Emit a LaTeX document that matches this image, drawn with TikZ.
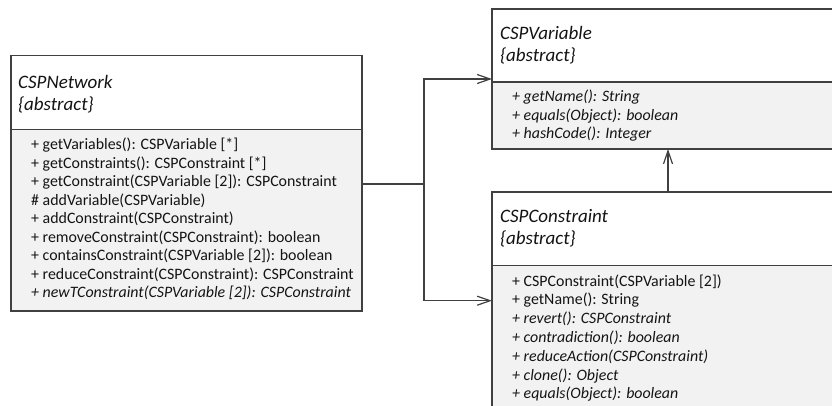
\documentclass[tikz,border=0pt]{standalone}
\usepackage{fontspec}
\setmainfont{Carlito}
\usetikzlibrary{arrows.meta,calc}
\definecolor{umlline}{HTML}{404040}
\definecolor{umlfill}{HTML}{F2F2F2}
\definecolor{umltext}{HTML}{141414}
\tikzset{
  x=1pt, y=-1pt,
  compart/.style={draw=umlline, line width=1.2pt, anchor=north west, inner sep=0pt, outer sep=0pt},
  headbox/.style={compart, fill=white},
  bodybox/.style={compart, fill=umlfill},
  titletext/.style={anchor=base west, inner sep=0pt, text=umltext, font=\fontsize{19}{22}\selectfont\itshape},
  optext/.style={anchor=base west, inner sep=0pt, text=umltext, font=\fontsize{15.9}{18.6}\selectfont},
  conn/.style={draw=umlline, line width=1.2pt},
  openarrow/.style={-{Straight Barb[length=13pt,width=9pt,line width=1.2pt]}}
}
\begin{document}
\begin{tikzpicture}
\useasboundingbox (0,0) rectangle (832,405);
\clip (0,0) rectangle (832,405);

% CSPNetwork class
\node[bodybox, minimum width=351pt, minimum height=181.5pt] (netbody) at (11,129.5) {};
\node[headbox, minimum width=351pt, minimum height=74pt] (nethead) at (11,55.5) {};
\node[titletext] (nettitle) at (18,88.5) {CSPNetwork};
\node[titletext] (netabs) at (18,110.5) {\{abstract\}};
\foreach \t [count=\i from 0] in {
  {+ getVariables(): CSPVariable [*]},
  {+ getConstraints(): CSPConstraint [*]},
  {+ getConstraint(CSPVariable [2]): CSPConstraint},
  {\# addVariable(CSPVariable)},
  {+ addConstraint(CSPConstraint)},
  {+ removeConstraint(CSPConstraint): boolean},
  {+ containsConstraint(CSPVariable [2]): boolean},
  {+ reduceConstraint(CSPConstraint): CSPConstraint},
  {\itshape + newTConstraint(CSPVariable [2]): CSPConstraint}}
  \node[optext] (netop\i) at (31,149.5+18.5*\i) {\t};

% CSPVariable class
\node[bodybox, minimum width=350pt, minimum height=67pt] (varbody) at (492,82) {};
\node[headbox, minimum width=350pt, minimum height=73pt] (varhead) at (492,9) {};
\node[titletext] (vartitle) at (500,39.5) {CSPVariable};
\node[titletext] (varabs) at (500,61.5) {\{abstract\}};
\foreach \t [count=\i from 0] in {
  {+ getName(): String},
  {+ equals(Object): boolean},
  {+ hashCode(): Integer}}
  \node[optext, font=\fontsize{15.9}{18.6}\selectfont\itshape] (varop\i) at (512,101.5+18.5*\i) {\t};

% CSPConstraint class
\node[bodybox, minimum width=350pt, minimum height=160pt] (conbody) at (492,265.7) {};
\node[headbox, minimum width=350pt, minimum height=73.7pt] (conhead) at (492,192) {};
\node[titletext] (contitle) at (500,222.5) {CSPConstraint};
\node[titletext] (conabs) at (500,244.5) {\{abstract\}};
\foreach \t [count=\i from 0] in {
  {+ CSPConstraint(CSPVariable [2])},
  {+ getName(): String},
  {\itshape + revert(): CSPConstraint},
  {\itshape + contradiction(): boolean},
  {\itshape + reduceAction(CSPConstraint)},
  {\itshape + clone(): Object},
  {\itshape + equals(Object): boolean}}
  \node[optext] (conop\i) at (512,286+18.8*\i) {\t};

% associations from CSPNetwork
\coordinate (split) at (424,184);
\draw[conn] (netbody.east |- split) -- (split);
\draw[conn, openarrow] (split) |- ($(varhead.south west)+(0,-3)$);
\draw[conn, openarrow] (split) |- ($(conbody.north west)+(0,35)$);

% generalization CSPConstraint -> CSPVariable
\coordinate (gen) at (668,0);
\draw[conn, openarrow] (conhead.north -| gen) -- (varbody.south -| gen);
\end{tikzpicture}
\end{document}
